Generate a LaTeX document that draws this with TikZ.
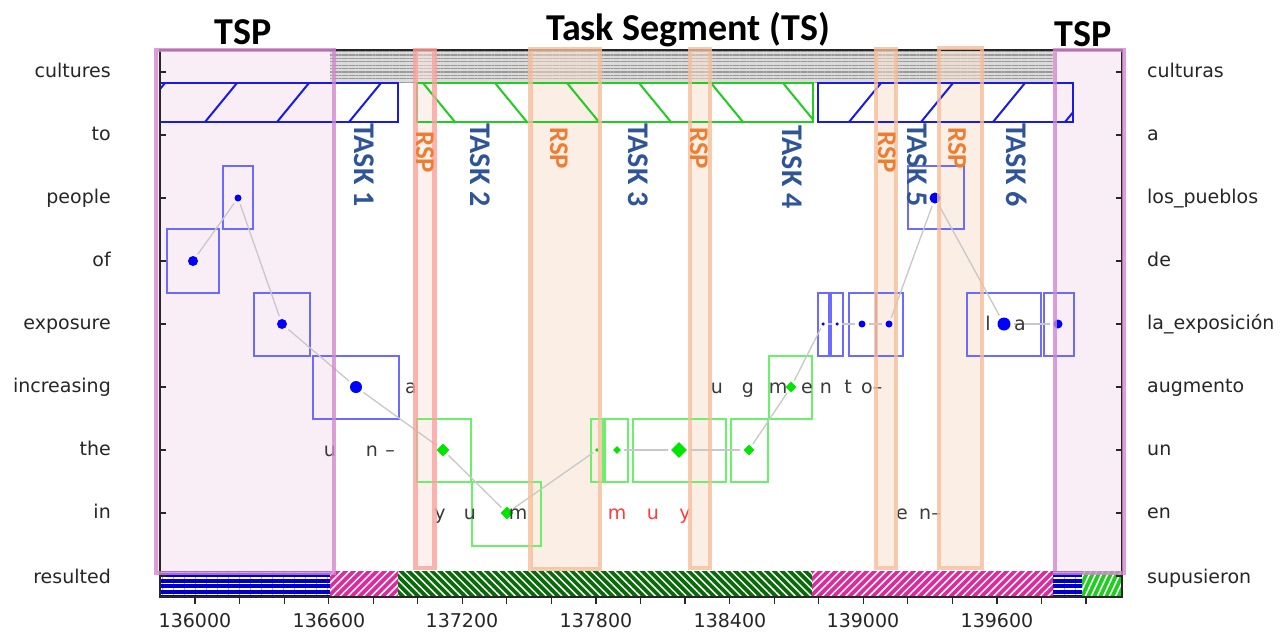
\documentclass[tikz,border=0pt]{standalone}
\usepackage{fontspec}
\setmainfont{DejaVu Sans}
\newfontfamily\calibri{Carlito}
\usetikzlibrary{shapes.geometric, patterns.meta}
\definecolor{taskB}{HTML}{2F5597}
\definecolor{rspO}{HTML}{ED7D31}
\definecolor{rspEdge}{HTML}{F6BE99}
\definecolor{rspFill}{HTML}{F9DFCD}
\definecolor{rspRed}{HTML}{FBA19C}
\definecolor{rspRedF}{HTML}{FDE5DD}
\definecolor{tspEdge}{HTML}{D488CE}
\definecolor{tspFill}{HTML}{F9EEF6}
\definecolor{boxB}{HTML}{6B6BFF}
\definecolor{boxG}{HTML}{6AF06A}
\definecolor{hatchB}{HTML}{1A1AE6}
\definecolor{hatchG}{HTML}{22CC22}
\definecolor{barB}{HTML}{0000CC}
\definecolor{barM}{HTML}{DA2C9C}
\definecolor{barD}{HTML}{0A6A0A}
\definecolor{barG}{HTML}{22CC22}
\definecolor{dotB}{HTML}{0000FF}
\definecolor{dotG}{HTML}{00E600}
\definecolor{linkG}{HTML}{C8C8C8}
\definecolor{letterK}{HTML}{3A3A3A}
\definecolor{letterR}{HTML}{FF3B3B}
\definecolor{axisK}{HTML}{262626}

\begin{document}
\begin{tikzpicture}[x=1pt, y=-1pt,
  lbl/.style={font=\fontsize{19}{19}\selectfont, text=axisK, inner sep=0pt},
  ylabL/.style={lbl, anchor=base east},
  ylabR/.style={lbl, anchor=base west},
  xlab/.style={lbl, anchor=base},
  glyph/.style={lbl, text=#1, anchor=base},
  glyph/.default=letterK,
  title/.style={font=\calibri\bfseries\fontsize{38}{38}\selectfont, anchor=base, inner sep=0pt},
  tasklbl/.style={font=\calibri\bfseries\fontsize{30}{30}\selectfont, text=taskB,
    rotate=-90, anchor=west, inner sep=0pt},
  rsplbl/.style={font=\calibri\bfseries\fontsize{27}{27}\selectfont, text=rspO,
    rotate=-90, anchor=west, inner sep=0pt},
  hbar/.style={draw=#1, line width=2pt},
  hatchline/.style={draw=#1, line width=2pt},
  stripeW/.style={pattern={Lines[angle=#1, distance=5.5pt, line width=1.5pt]}, pattern color=white},
  stripeG/.style={pattern={Lines[angle=0, distance=3.4pt, line width=1.2pt]}, pattern color=gray!80},
  bbox/.style={draw=boxB, line width=1.5pt},
  gbox/.style={draw=boxG, line width=1.5pt},
  bdot/.style={circle, fill=dotB, inner sep=0pt, minimum size=#1},
  gdia/.style={diamond, fill=dotG, inner sep=0pt, minimum size=#1},
  link/.style={draw=linkG, line width=1.3pt, shorten <=3pt, shorten >=3pt},
  tspfill/.style={fill=tspFill},
  tspedge/.style={draw=tspEdge, line width=4.5pt, draw opacity=0.8},
  rspfill/.style={fill=#1, fill opacity=0.5},
  rspedge/.style={draw=#1, line width=4.5pt, draw opacity=0.8},
  frame/.style={draw=axisK, line width=1.4pt},
  tick/.style={draw=axisK, line width=1.2pt}
]
\useasboundingbox[fill=white] (0,0) rectangle (1280,633);

%% ═══ FONDS TSP / BANDE GRISE ═══
\fill[tspfill] (156,50) rectangle (334,573);
\fill[tspfill] (1055,50) rectangle (1124,573);
\fill[gray!28] (330,50) rectangle (1053,82);
\fill[stripeG] (330,50) rectangle (1053,82);
\fill[rspfill=rspRedF] (415.5,50) rectangle (434.5,568);
\fill[rspfill=rspFill] (530.5,49) rectangle (600,569);
\fill[rspfill=rspFill] (690,49) rectangle (710,568);
\fill[rspfill=rspFill] (876,49) rectangle (896,568);
\fill[rspfill=rspFill] (939,48) rectangle (982,568);

%% ═══ BARRES ═══
\begin{scope}
  \clip (160,83) rectangle (398,122);
  \foreach \b in {133,205,277,349} \draw[hatchline=hatchB] (\b,122) -- ({\b+32},83);
\end{scope}
\draw[hbar=hatchB] (160,83) rectangle (398,122);

\begin{scope}
  \clip (417,83) rectangle (813,122);
  \foreach \t in {423,495,567,639,711,783} \draw[hatchline=hatchG] (\t,83) -- ({\t+32},122);
\end{scope}
\draw[hbar=hatchG] (417,83) rectangle (813,122);

\begin{scope}
  \clip (818,83) rectangle (1073,122);
  \foreach \b in {849,921,993,1065} \draw[hatchline=hatchB] (\b,122) -- ({\b+32},83);
\end{scope}
\draw[hbar=hatchB] (818,83) rectangle (1073,122);

%% barre du bas
\fill[barB] (160,571) rectangle (330,597);
\fill[stripeW=0] (160,571) rectangle (330,597);
\fill[barM] (330,571) rectangle (398,597);
\fill[stripeW=45] (330,571) rectangle (398,597);
\fill[barD] (398,571) rectangle (812,597);
\fill[stripeW=-45] (398,571) rectangle (812,597);
\fill[barM] (812,571) rectangle (1053,597);
\fill[stripeW=45] (812,571) rectangle (1053,597);
\fill[barB] (1053,571) rectangle (1082,597);
\fill[stripeW=0] (1053,571) rectangle (1082,597);
\fill[barG] (1082,571) rectangle (1122,597);
\fill[stripeW=65] (1082,571) rectangle (1122,597);

%% ═══ ALIGNEMENT ═══
\draw[bbox] (167,229) rectangle (219,293);
\draw[bbox] (223,166) rectangle (253,229);
\draw[bbox] (254,293) rectangle (310,356);
\draw[bbox] (313,356) rectangle (399,419);
\draw[gbox] (417,419) rectangle (471,482);
\draw[gbox] (472,482) rectangle (541,546);
\draw[gbox] (591,419) rectangle (603,482);
\draw[gbox] (605,419) rectangle (628,482);
\draw[gbox] (633,419) rectangle (726,482);
\draw[gbox] (731,419) rectangle (768,482);
\draw[gbox] (769,356) rectangle (812,419);
\draw[bbox] (818,293) rectangle (829,356);
\draw[bbox] (831,293) rectangle (843,356);
\draw[bbox] (849,293) rectangle (876,356);
\draw[bbox] (876,293) rectangle (903,356);
\draw[bbox] (908,166) rectangle (964,229);
\draw[bbox] (967,293) rectangle (1041,356);
\draw[bbox] (1044,293) rectangle (1074,356);

\node[bdot=10] (pOf) at (193,261) {};
\node[bdot=7] (pPeople) at (238,198) {};
\node[bdot=10] (pExpo) at (282,324) {};
\node[bdot=12] (pIncr) at (356,387) {};
\node[gdia=13] (gThe) at (443,450) {};
\node[gdia=13] (gIn) at (507,513) {};
\node[gdia=4] (gT1) at (597,450) {};
\node[gdia=8] (gT2) at (617,450) {};
\node[gdia=16] (gT3) at (679,450) {};
\node[gdia=11] (gT4) at (749,450) {};
\node[gdia=11] (gIncr) at (791,387) {};
\node[bdot=3.5] (pE1) at (823,324) {};
\node[bdot=3.5] (pE2) at (837,324) {};
\node[bdot=7] (pE3) at (862,324) {};
\node[bdot=7] (pE4) at (889,324) {};
\node[bdot=11] (pPeo2) at (935,198) {};
\node[bdot=13] (pE5) at (1004,324) {};
\node[bdot=9] (pE6) at (1058,324) {};

\draw[link] (pOf) -- (pPeople);
\draw[link] (pPeople) -- (pExpo);
\draw[link] (pExpo) -- (pIncr);
\draw[link] (pIncr) -- (gThe);
\draw[link] (gThe) -- (gIn);
\draw[link] (gIn) -- (gT1);
\draw[link] (gT2) -- (gT3);
\draw[link] (gT3) -- (gT4);
\draw[link] (gT4) -- (gIncr);
\draw[link] (gIncr) -- (pE1);
\draw[link] (pE1) -- (pE2);
\draw[link] (pE2) -- (pE3);
\draw[link] (pE3) -- (pE4);
\draw[link] (pE4) -- (pPeo2);
\draw[link] (pPeo2) -- (pE5);
\draw[link] (pE5) -- (pE6);

%% lettres
\node[glyph] (cA1) at (411,393) {a};
\node[glyph] (cU1) at (330,456) {u};
\node[glyph] (cN1) at (372,456) {n};
\node[glyph] (cD1) at (390,456) {–};
\node[glyph] (cY1) at (440,519) {y};
\node[glyph] (cU2) at (470,519) {u};
\node[glyph] (cM1) at (518,519) {m};
\node[glyph=letterR] (rM) at (617,519) {m};
\node[glyph=letterR] (rU) at (653,519) {u};
\node[glyph=letterR] (rY) at (685,519) {y};
\node[glyph] (aU) at (717,393) {u};
\node[glyph] (aG) at (748,393) {g};
\node[glyph] (aM) at (778,393) {m};
\node[glyph] (aE) at (807,393) {e};
\node[glyph] (aN) at (826,393) {n};
\node[glyph] (aT) at (848,393) {t};
\node[glyph, anchor=base west] (aO) at (861,393) {o–};
\node[glyph] (eE) at (902,519) {e};
\node[glyph, anchor=base west] (eN) at (919,519) {n–};
\node[glyph] (lL) at (988,330) {l};
\node[glyph] (lA) at (1020,330) {a};

%% ═══ AXES ═══
\draw[frame] (160,50) rectangle (1122,597);
\foreach \y in {72,135,198,261,324,387,450,513,576} {
  \draw[tick] (160,\y) -- (166,\y);
  \draw[tick] (1116,\y) -- (1122,\y);
}
\foreach \k in {0,...,20} \draw[tick] ({195+44.55*\k},597) -- ({195+44.55*\k},604);

%% ═══ TSP / RSP ═══
\draw[tspedge] (156,50) rectangle (334,573);
\draw[tspedge] (1055,50) rectangle (1124,573);
\draw[rspedge=rspRed] (415.5,50) rectangle (434.5,568);
\draw[rspedge=rspEdge] (530.5,49) rectangle (600,569);
\draw[rspedge=rspEdge] (690,49) rectangle (710,568);
\draw[rspedge=rspEdge] (876,49) rectangle (896,568);
\draw[rspedge=rspEdge] (939,48) rectangle (982,568);

\node[tasklbl] (task1) at (364,123) {TASK 1};
\node[tasklbl] (task2) at (480,123) {TASK 2};
\node[tasklbl] (task3) at (638,123) {TASK 3};
\node[tasklbl] (task4) at (792,125) {TASK 4};
\node[tasklbl] (task5) at (917,123) {TASK 5};
\node[tasklbl] (task6) at (1017,123) {TASK 6};

\node[rsplbl] (rsp1) at (425,131) {RSP};
\node[rsplbl] (rsp2) at (559,127) {RSP};
\node[rsplbl] (rsp3) at (699,127) {RSP};
\node[rsplbl] (rsp4) at (887,131) {RSP};
\node[rsplbl] (rsp5) at (957,127) {RSP};

\node[title] (tspL) at (243,44) {TSP};
\node[title] (tsMid) at (688,40) {Task Segment (TS)};
\node[title] (tspR) at (1083,46) {TSP};

%% étiquettes
\node[ylabL] (lCult) at (111,77) {cultures};
\node[ylabL] (lTo) at (111,140) {to};
\node[ylabL] (lPeople) at (111,203) {people};
\node[ylabL] (lOf) at (111,266) {of};
\node[ylabL] (lExpo) at (111,329) {exposure};
\node[ylabL] (lIncr) at (111,392) {increasing};
\node[ylabL] (lThe) at (111,455) {the};
\node[ylabL] (lIn) at (111,518) {in};
\node[ylabL] (lRes) at (111,583) {resulted};

\node[ylabR] (rCult) at (1147,77) {culturas};
\node[ylabR] (rA) at (1147,140) {a};
\node[ylabR] (rPueblos) at (1147,203) {los\_pueblos};
\node[ylabR] (rDe) at (1147,266) {de};
\node[ylabR] (rExpo) at (1147,329) {la\_exposición};
\node[ylabR] (rAug) at (1147,392) {augmento};
\node[ylabR] (rUn) at (1147,455) {un};
\node[ylabR] (rEn) at (1147,518) {en};
\node[ylabR] (rSup) at (1147,583) {supusieron};

\node[xlab] (x1) at (195,627) {136000};
\node[xlab] (x2) at (329,627) {136600};
\node[xlab] (x3) at (462,627) {137200};
\node[xlab] (x4) at (596,627) {137800};
\node[xlab] (x5) at (730,627) {138400};
\node[xlab] (x6) at (863,627) {139000};
\node[xlab] (x7) at (997,627) {139600};

\end{tikzpicture}
\end{document}
